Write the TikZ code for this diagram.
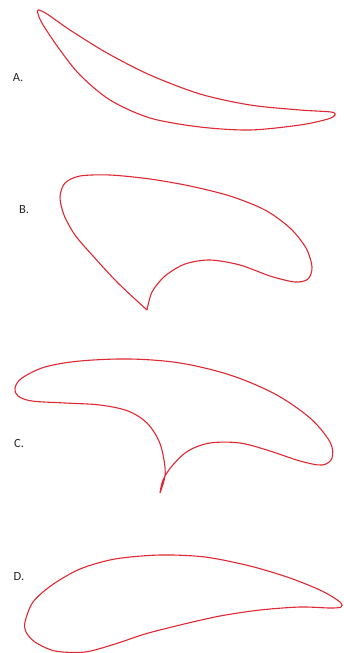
\documentclass[tikz,border=0pt]{standalone}
\usepackage{fontspec}
\setmainfont{Carlito}
\definecolor{outline}{RGB}{222,40,50}
\begin{document}
\begin{tikzpicture}[x=1pt,y=-1pt,
  outl/.style={draw=outline,line width=1.1pt,line join=round},
  lbl/.style={font=\fontsize{12.5}{14}\selectfont,text=black!85,inner sep=0pt}]
\useasboundingbox (0,0) rectangle (343,653);
% labels
\node[lbl] (la) at (18,78) {A.};
\node[lbl] (lb) at (24,210) {B.};
\node[lbl] (lc) at (19,443) {C.};
\node[lbl] (ld) at (19,577) {D.};
% A
\draw[outl] plot[smooth cycle,tension=0.5] coordinates {
 (38,10) (47,14) (70,30) (107,53) (150,75) (200,94) (250,105) (300,110)
 (331,112) (335,115) (328,119) (300,125) (250,130) (200,127) (150,118)
 (110,100) (80,75) (60,50) (45,28) (39,17)};
% B
\draw[outl] plot[smooth,tension=0.5] coordinates {
 (147,310) (152,292) (165,276) (185,264) (210,260) (240,265) (270,276)
 (295,282) (308,279) (312,267) (306,248) (290,228) (265,210) (230,196)
 (190,186) (150,179) (110,175) (80,176) (65,183) (60,197) (64,215)
 (75,235) (93,256) (118,283) (147,310)};
% C
\draw[outl] plot[smooth,tension=0.55] coordinates {
 (160,493) (163,480) (172,466) (188,451) (210,443) (240,443) (270,451)
 (300,461) (322,465) (332,458) (330,442) (310,418) (275,394) (230,375)
 (180,363) (130,359) (80,361) (45,367) (22,378) (15,388) (18,396)
 (32,401) (65,403) (100,405) (128,411) (147,423) (159,441) (164,460)
 (165,476) (160,493)};
% D
\draw[outl] plot[smooth cycle,tension=0.5] coordinates {
 (25,622) (33,602) (52,585) (80,569) (115,559) (160,555) (205,557)
 (250,566) (290,578) (322,591) (340,602) (341,607) (330,608) (300,607)
 (260,610) (220,616) (180,625) (145,634) (115,644) (85,652) (55,651)
 (35,642) (26,632)};
\end{tikzpicture}
\end{document}
